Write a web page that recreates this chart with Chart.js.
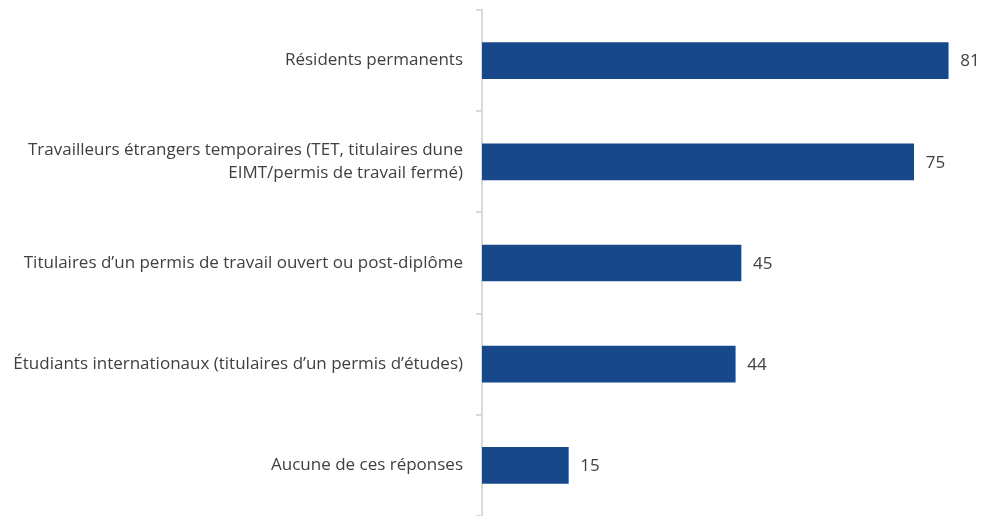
<!DOCTYPE html>
<html lang="fr">
<head>
<meta charset="utf-8">
<title>Répartition</title>
<script src="https://cdn.jsdelivr.net/npm/chart.js@4/dist/chart.umd.min.js"></script>
<style>
  html, body { margin: 0; padding: 0; background: #fff; }
  #wrap { position: relative; width: 984px; height: 516px; }
</style>
</head>
<body>
<div id="wrap"><canvas id="barChart"></canvas></div>
<script>
// --- Données ---
const categories = [
  'Résidents permanents',
  ['Travailleurs étrangers temporaires (TET, titulaires dune', 'EIMT/permis de travail fermé)'],
  'Titulaires d\u2019un permis de travail ouvert ou post-diplôme',
  'Étudiants internationaux (titulaires d\u2019un permis d\u2019études)',
  'Aucune de ces réponses'
];
const valeurs = [81, 75, 45, 44, 15];

const BLEU = '#17498A';
const GRIS_AXE = '#D9D9D9';
const TEXTE = '#404040';
const POLICE = '"Open Sans", sans-serif';
const TAILLE = 17;

// Étiquettes de valeur à droite de chaque barre
const etiquettesValeurs = {
  id: 'etiquettesValeurs',
  afterDatasetsDraw(chart) {
    const ctx = chart.ctx;
    const meta = chart.getDatasetMeta(0);
    ctx.save();
    ctx.font = TAILLE + 'px ' + POLICE;
    ctx.fillStyle = TEXTE;
    ctx.textAlign = 'left';
    ctx.textBaseline = 'middle';
    meta.data.forEach((bar, i) => {
      ctx.fillText(String(valeurs[i]), bar.x + 12, bar.y + 1);
    });
    ctx.restore();
  }
};

new Chart(document.getElementById('barChart').getContext('2d'), {
  type: 'bar',
  data: {
    labels: categories,
    datasets: [{
      data: valeurs,
      backgroundColor: BLEU,
      borderWidth: 0,
      barThickness: 36
    }]
  },
  options: {
    indexAxis: 'y',
    responsive: true,
    maintainAspectRatio: false,
    animation: false,
    layout: { padding: { top: 10, right: 7, bottom: 0, left: 0 } },
    plugins: {
      legend: { display: false },
      tooltip: { enabled: false }
    },
    scales: {
      x: {
        display: false,
        min: 0,
        max: 86
      },
      y: {
        // largeur fixe de la colonne des libellés, sans marge haut/bas
        afterFit(scale) {
          scale.width = 482;
          scale.paddingTop = 0;
          scale.paddingBottom = 0;
        },
        grid: {
          offset: true,
          drawOnChartArea: false,
          drawTicks: true,
          tickLength: 6,
          tickColor: GRIS_AXE,
          lineWidth: 2
        },
        border: { display: true, color: GRIS_AXE, width: 2 },
        ticks: {
          color: TEXTE,
          padding: 13,
          font: { family: POLICE, size: TAILLE, lineHeight: 1.35 }
        }
      }
    }
  },
  plugins: [etiquettesValeurs]
});
</script>
</body>
</html>
